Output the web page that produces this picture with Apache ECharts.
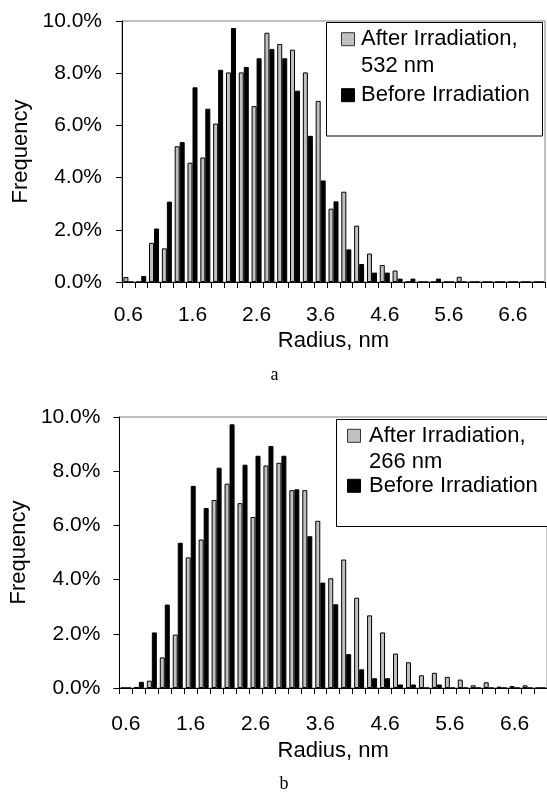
<!DOCTYPE html>
<html>
<head>
<meta charset="utf-8">
<script src="https://cdn.jsdelivr.net/npm/echarts@6/dist/echarts.min.js"></script>
<style>
html, body { margin: 0; padding: 0; background: #fff; }
#chart { width: 547px; height: 792px; }
</style>
</head>
<body>
<div id="chart"></div>
<script>
// radius bins (nm), step 0.2
var radiusBins = ['0.6', '0.8', '1.0', '1.2', '1.4', '1.6', '1.8', '2.0', '2.2', '2.4', '2.6',
    '2.8', '3.0', '3.2', '3.4', '3.6', '3.8', '4.0', '4.2', '4.4', '4.6', '4.8', '5.0',
    '5.2', '5.4', '5.6', '5.8', '6.0', '6.2', '6.4', '6.6', '6.8', '7.0'];

// frequency in %
var beforeIrradiation = [0, 0.23, 2.05, 3.08, 5.36, 7.46, 6.64, 8.13, 9.73, 8.24, 8.57,
    8.93, 8.57, 7.33, 5.60, 3.89, 3.09, 1.25, 0.69, 0.36, 0.36, 0.13, 0.13,
    0, 0.13, 0, 0, 0, 0, 0, 0, 0, 0];
var after532 = [0.19, 0, 1.50, 1.29, 5.20, 4.57, 4.77, 6.07, 8.03, 8.03, 6.74,
    9.55, 9.12, 8.90, 8.03, 6.94, 2.81, 3.46, 2.16, 1.09, 0.65, 0.44, 0,
    0, 0, 0, 0.20, 0, 0, 0, 0, 0, 0];
var after266 = [0, 0.04, 0.27, 1.13, 1.97, 4.82, 5.48, 6.94, 7.54, 6.82, 6.31,
    8.21, 8.31, 7.30, 7.30, 6.17, 4.05, 4.74, 3.33, 2.68, 2.05, 1.27, 0.95,
    0.47, 0.56, 0.41, 0.31, 0.10, 0.21, 0.05, 0.07, 0.10, 0];

var FONT = 'Liberation Sans, Arial, sans-serif';
var GRAY = '#c0c0c0';

var chart = echarts.init(document.getElementById('chart'));

function xAxisFor(grid, margin, nameGap) {
    return {
        type: 'category',
        gridIndex: grid,
        data: radiusBins,
        name: 'Radius, nm',
        nameLocation: 'middle',
        nameGap: nameGap,
        nameTextStyle: { fontFamily: FONT, fontSize: 22, color: '#000' },
        axisLine: { lineStyle: { color: '#000', width: 1 } },
        axisTick: { show: true, interval: 0, length: 6, lineStyle: { color: '#000' } },
        axisLabel: { interval: 4, margin: margin, fontFamily: FONT, fontSize: 21, color: '#000' },
        splitLine: { show: false }
    };
}

function yAxisFor(grid, margin, nameGap) {
    return {
        type: 'value',
        gridIndex: grid,
        min: 0,
        max: 10,
        interval: 2,
        name: 'Frequency',
        nameLocation: 'middle',
        nameRotate: 90,
        nameGap: nameGap,
        nameTextStyle: { fontFamily: FONT, fontSize: 22, color: '#000' },
        axisLine: { show: true, lineStyle: { color: '#000', width: 1 } },
        axisTick: { show: true, length: 6, lineStyle: { color: '#000' } },
        axisLabel: {
            margin: margin, fontFamily: FONT, fontSize: 21, color: '#000',
            formatter: function (v) { return v.toFixed(1) + '%'; }
        },
        splitLine: { show: false }
    };
}

function barSeries(name, data, axis, color) {
    return {
        name: name,
        type: 'bar',
        xAxisIndex: axis,
        yAxisIndex: axis,
        data: data,
        barWidth: 5,
        barGap: '0%',
        itemStyle: { color: color, borderColor: '#000', borderWidth: 1 }
    };
}

function legendBox(x, y, w, h, sq, textX, base, label) {
    var t = function (s, b) {
        return { type: 'text', z: 11, style: { text: s, x: textX, y: b - 7.7, verticalAlign: 'middle',
            font: '22px ' + FONT, fill: '#000' } };
    };
    return [
        { type: 'rect', shape: { x: x, y: y, width: w, height: h },
          style: { fill: '#fff', stroke: '#000', lineWidth: 1 }, z: 10 },
        { type: 'rect', shape: { x: sq, y: base[0] - 14, width: 13, height: 13 },
          style: { fill: GRAY, stroke: '#333', lineWidth: 1 }, z: 11 },
        t('After Irradiation,', base[0]),
        t(label, base[1]),
        { type: 'rect', shape: { x: sq, y: base[2] - 14, width: 13, height: 13 },
          style: { fill: '#000', stroke: '#000', lineWidth: 1 }, z: 11 },
        t('Before Irradiation', base[2])
    ];
}

var option = {
    animation: false,
    backgroundColor: '#fff',
    grid: [
        { left: 122, top: 21, width: 423, height: 261, show: true, borderColor: '#808080', borderWidth: 1 },
        { left: 116, top: 417, width: 439, height: 271, show: true, borderColor: '#808080', borderWidth: 1 }
    ],
    xAxis: [xAxisFor(0, 23, 48), xAxisFor(1, 26, 52)],
    yAxis: [yAxisFor(0, 20, 81), yAxisFor(1, 19, 88)],
    series: [
        barSeries('After Irradiation, 532 nm', after532, 0, GRAY),
        barSeries('Before Irradiation', beforeIrradiation, 0, '#000'),
        barSeries('After Irradiation, 266 nm', after266, 1, GRAY),
        barSeries('Before Irradiation', beforeIrradiation, 1, '#000')
    ],
    graphic: [].concat(
        legendBox(326.5, 22.5, 216, 113.5, 341.5, 361, [46.7, 73.3, 102.7], '532 nm'),
        legendBox(336.5, 419.5, 230, 107, 347.5, 369, [443.3, 470, 493.3], '266 nm'),
        [
            { type: 'text', style: { text: 'a', x: 274.5, y: 384, align: 'center', verticalAlign: 'bottom',
                font: '18px Liberation Serif, Times New Roman, serif', fill: '#000' } },
            { type: 'text', style: { text: 'b', x: 284, y: 793, align: 'center', verticalAlign: 'bottom',
                font: '18px Liberation Serif, Times New Roman, serif', fill: '#000' } }
        ]
    )
};

chart.setOption(option);
</script>
</body>
</html>
